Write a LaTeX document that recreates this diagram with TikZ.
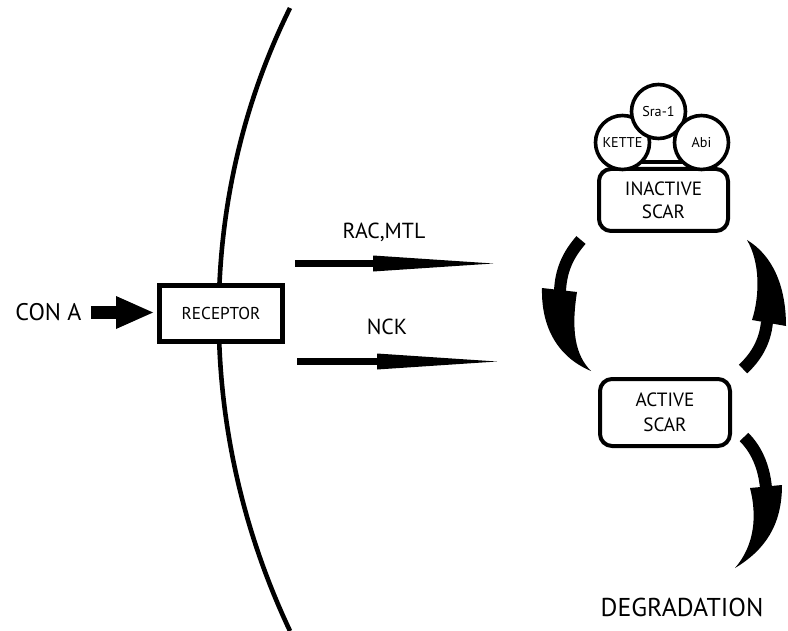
\documentclass[tikz,border=0pt]{standalone}
\usepackage{fontspec}
\setmainfont{PT Sans}
\usetikzlibrary{arrows.meta}

\tikzset{
  scarbox/.style={draw, line width=2pt, rounded corners=6pt, fill=white, align=center, inner sep=0pt},
  prot/.style={draw, circle, line width=1.8pt, fill=white, minimum size=27pt, inner sep=0pt, font=\fontsize{7.1}{8}\selectfont},
  biglabel/.style={font=\fontsize{10.9}{12}\selectfont, inner sep=0pt},
  fatarrow/.style={line width=6.5pt, -{Triangle[length=18.5pt, width=16.5pt, line width=0pt]}},
  signal/.style={line width=3.5pt, -{Triangle[length=60pt, width=8pt, line width=0pt]}},
  cycleshaft/.style={line width=6pt},
}

\begin{document}
\begin{tikzpicture}[x=0.5pt, y=-0.5pt]
  \useasboundingbox (0,0) rectangle (788,631);
  % membrane
  \draw [line width=2.3pt] (290,8) .. controls (195,200) and (195,430) .. (290,631);
  \node [scarbox, rounded corners=0pt, line width=2.5pt, minimum width=61.5pt, minimum height=28pt, font=\fontsize{8.6}{10}\selectfont] (receptor) at (221,313.5) {RECEPTOR};
  \node [biglabel, anchor=west, font=\fontsize{12}{13}\selectfont] (cona) at (15,312.5) {CON A};
  \draw [fatarrow, shorten <=4.5pt, shorten >=2pt] (cona.east) -- (cona.east -| receptor.west);
  % signals
  \node [biglabel] (rac) at (384,232.5) {RAC,MTL};
  \node [biglabel] (nck) at (387,327) {NCK};
  \coordinate (rac-a) at (295,263.5);
  \coordinate (rac-b) at (493,263.5);
  \coordinate (nck-a) at (297,361.5);
  \coordinate (nck-b) at (497,361.5);
  \draw [signal] (rac-a) -- (rac-b);
  \draw [signal] (nck-a) -- (nck-b);
  % scar complex
  \node [scarbox, minimum width=64.5pt, minimum height=31pt, font=\fontsize{9.6}{11.5}\selectfont] (inactive) at (663.5,200) {INACTIVE\\SCAR};
  \draw [line width=1.8pt] (640,162) -- (684,162);
  \node [prot] (kette) at (622.5,142.5) {KETTE};
  \node [prot] (sra) at (658.5,111.5) {Sra-1};
  \node [prot] (abi) at (701.5,142.5) {Abi};
  \node [scarbox, minimum width=65pt, minimum height=33.5pt, font=\fontsize{9.6}{12.5}\selectfont] (active) at (665,412.5) {ACTIVE\\SCAR};
  \node [font=\fontsize{12.9}{14}\selectfont, inner sep=0pt] (degr) at (682,607) {DEGRADATION};
  % cycle arrows
  \draw [cycleshaft] (581,240) .. controls (568,255) and (561,270) .. (560,291);
  \fill (542,288) .. controls (541,330) and (560,358) .. (591,371) .. controls (575,355) and (571,330) .. (577,292) -- cycle;
  \draw [cycleshaft] (743,369) .. controls (756,357) and (765,342) .. (767,322);
  \fill (752,320) .. controls (760,295) and (760,262) .. (747,240) .. controls (772,255) and (786,285) .. (786,326) -- cycle;
  \draw [cycleshaft] (744,437) .. controls (756,449) and (764,466) .. (766,488);
  \fill (750,488) .. controls (757,515) and (755,545) .. (735,568) .. controls (765,550) and (782,525) .. (782,485) -- cycle;
\end{tikzpicture}
\end{document}
